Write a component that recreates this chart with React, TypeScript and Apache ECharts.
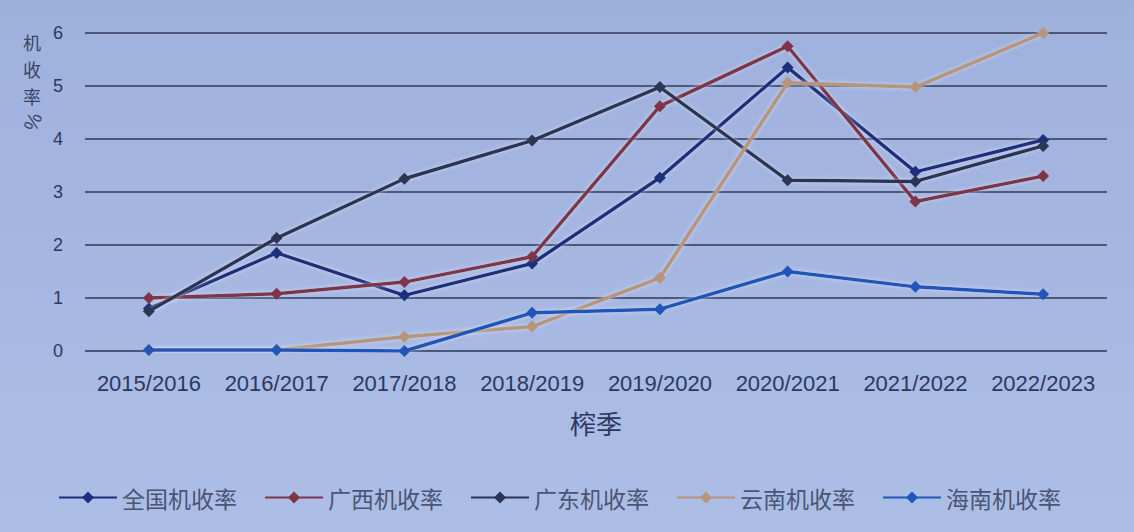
import React, { useEffect, useRef } from "react";
import * as echarts from "echarts";

const seasons = ["2015/2016", "2016/2017", "2017/2018", "2018/2019", "2019/2020", "2020/2021", "2021/2022", "2022/2023"];
const seriesNames = ["全国机收率", "广西机收率", "广东机收率", "云南机收率", "海南机收率"];
const national = [0.8, 1.85, 1.05, 1.65, 3.27, 5.35, 3.38, 3.98];
const guangxi = [1.0, 1.08, 1.3, 1.78, 4.62, 5.75, 2.82, 3.3];
const guangdong = [0.75, 2.13, 3.25, 3.97, 4.98, 3.22, 3.2, 3.87];
const yunnan = [0.02, 0.02, 0.27, 0.46, 1.38, 5.06, 4.98, 6.0];
const hainan = [0.02, 0.02, 0.0, 0.72, 0.79, 1.5, 1.21, 1.07];
const seriesColors = ["#1c2f7c", "#7e3549", "#2b3654", "#b7957a", "#1f56b8"];
const yTicks = [0, 1, 2, 3, 4, 5, 6];
const yNameChars = ["机", "收", "率"];

export default function App() {
  const ref = useRef<HTMLDivElement>(null);
  useEffect(() => {
    if (!ref.current) return;
    const chart = echarts.init(ref.current, null, { renderer: "svg" });
    const values = [national, guangxi, guangdong, yunnan, hainan];
    chart.setOption({
      animation: false,
      backgroundColor: {
        type: "linear", x: 0, y: 0, x2: 0, y2: 1,
        colorStops: [
          { offset: 0, color: "#9eb0dc" },
          { offset: 1, color: "#adbee6" },
        ],
      },
      grid: { left: 85, right: 27, top: 33, bottom: 181 },
      legend: {
        left: 53,
        top: 481,
        itemWidth: 58,
        itemHeight: 15,
        itemGap: 27,
        data: seriesNames,
        textStyle: { fontSize: 23, color: "#4a5474", fontFamily: "Noto Sans CJK SC" },
      },
      xAxis: {
        type: "category",
        data: seasons,
        boundaryGap: true,
        name: "榨季",
        nameLocation: "middle",
        nameGap: 58,
        nameTextStyle: { fontSize: 26, color: "#2c3860", fontFamily: "Noto Sans CJK SC" },
        axisLine: { show: false },
        axisTick: { show: false },
        axisLabel: {
          interval: 0,
          margin: 21,
          fontSize: 22,
          color: "#2c3860",
          fontFamily: "Liberation Sans, sans-serif",
        },
      },
      yAxis: {
        type: "value",
        min: yTicks[0],
        max: yTicks[yTicks.length - 1],
        interval: 1,
        axisLine: { show: false },
        axisTick: { show: false },
        axisLabel: {
          margin: 22,
          fontSize: 18,
          color: "#2c3860",
          fontFamily: "Liberation Sans, sans-serif",
        },
        splitLine: { lineStyle: { color: "#4d5879", width: 2 } },
      },
      graphic: [
        ...yNameChars.map((ch, k) => ({
          type: "text",
          x: 32,
          y: 42 + k * 27,
          style: {
            text: ch,
            fontSize: 18,
            lineHeight: 19,
            fill: "#3a4468",
            align: "center",
            verticalAlign: "middle",
            fontFamily: "Noto Sans CJK SC",
          },
        })),
        {
          type: "text",
          x: 33,
          y: 122,
          rotation: -Math.PI / 2 - 0.4,
          style: {
            text: "%",
            fontSize: 20,
            fill: "#3a4468",
            align: "center",
            verticalAlign: "middle",
            fontFamily: "Liberation Sans, sans-serif",
          },
        },
      ],
      series: seriesNames.map((name, i) => ({
        name,
        type: "line",
        data: values[i],
        symbol: "diamond",
        symbolSize: 12,
        lineStyle: { width: 3.5, color: seriesColors[i], shadowColor: "rgba(235,235,255,0.6)", shadowBlur: 4 },
        itemStyle: { color: seriesColors[i] },
        z: 2 + i,
      })),
    });
    return () => chart.dispose();
  }, []);
  return <div ref={ref} style={{ position: "absolute", left: 0, top: 0, width: 1134, height: 532 }} />;
}
